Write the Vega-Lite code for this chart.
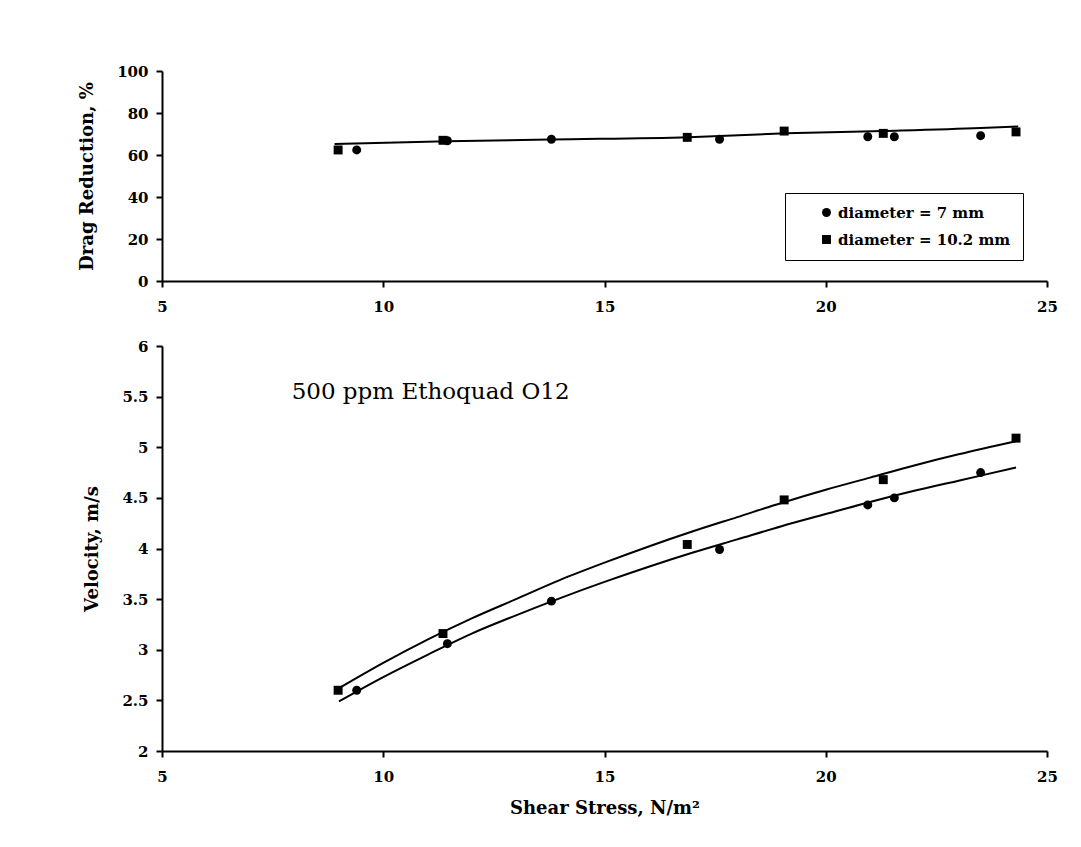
{
  "$schema": "https://vega.github.io/schema/vega-lite/v6.json",
  "background": "white",
  "padding": {"left": 78, "top": 64, "right": 10, "bottom": 10},
  "bounds": "flush",
  "spacing": 65,
  "config": {
    "view": {"stroke": null},
    "axis": {
      "grid": false,
      "domainColor": "black",
      "domainWidth": 2,
      "tickColor": "black",
      "tickWidth": 2,
      "tickSize": 6,
      "labelFont": "DejaVu Serif",
      "labelFontWeight": "bold",
      "labelFontSize": 15,
      "labelColor": "black",
      "titleFont": "DejaVu Serif",
      "titleFontWeight": "bold",
      "titleFontSize": 18,
      "titleColor": "black"
    },
    "axisX": {"labelPadding": 12, "titlePadding": 15, "labelFlush": false},
    "axisY": {"labelPadding": 8, "titlePadding": 20}
  },
  "datasets": {
    "measurements": [
      {"series": "diameter = 7 mm", "stress": 9.4, "drag_reduction": 62.4, "velocity": 2.6},
      {"series": "diameter = 7 mm", "stress": 11.45, "drag_reduction": 66.8, "velocity": 3.06},
      {"series": "diameter = 7 mm", "stress": 13.8, "drag_reduction": 67.5, "velocity": 3.48},
      {"series": "diameter = 7 mm", "stress": 17.6, "drag_reduction": 67.5, "velocity": 3.99},
      {"series": "diameter = 7 mm", "stress": 20.95, "drag_reduction": 68.7, "velocity": 4.43},
      {"series": "diameter = 7 mm", "stress": 21.55, "drag_reduction": 68.7, "velocity": 4.5},
      {"series": "diameter = 7 mm", "stress": 23.5, "drag_reduction": 69.2, "velocity": 4.75},
      {"series": "diameter = 10.2 mm", "stress": 8.98, "drag_reduction": 62.4, "velocity": 2.6},
      {"series": "diameter = 10.2 mm", "stress": 11.35, "drag_reduction": 67.0, "velocity": 3.16},
      {"series": "diameter = 10.2 mm", "stress": 16.87, "drag_reduction": 68.4, "velocity": 4.04},
      {"series": "diameter = 10.2 mm", "stress": 19.06, "drag_reduction": 71.4, "velocity": 4.48},
      {"series": "diameter = 10.2 mm", "stress": 21.3, "drag_reduction": 70.3, "velocity": 4.68},
      {"series": "diameter = 10.2 mm", "stress": 24.3, "drag_reduction": 71.0, "velocity": 5.09}
    ],
    "drag_fit": [
      {"stress": 8.9, "drag_reduction": 65.2},
      {"stress": 11.45, "drag_reduction": 66.5},
      {"stress": 13.8, "drag_reduction": 67.4},
      {"stress": 16.9, "drag_reduction": 68.5},
      {"stress": 19.1, "drag_reduction": 70.3},
      {"stress": 21.3, "drag_reduction": 71.4},
      {"stress": 23.5, "drag_reduction": 72.8},
      {"stress": 24.35, "drag_reduction": 73.6}
    ],
    "velocity_fit": [
      {"series": "diameter = 10.2 mm", "stress": 9.0, "velocity": 2.62},
      {"series": "diameter = 10.2 mm", "stress": 10, "velocity": 2.87},
      {"series": "diameter = 10.2 mm", "stress": 11, "velocity": 3.1},
      {"series": "diameter = 10.2 mm", "stress": 12, "velocity": 3.31},
      {"series": "diameter = 10.2 mm", "stress": 13, "velocity": 3.5},
      {"series": "diameter = 10.2 mm", "stress": 14, "velocity": 3.69},
      {"series": "diameter = 10.2 mm", "stress": 15, "velocity": 3.86},
      {"series": "diameter = 10.2 mm", "stress": 16, "velocity": 4.02},
      {"series": "diameter = 10.2 mm", "stress": 17, "velocity": 4.17},
      {"series": "diameter = 10.2 mm", "stress": 18, "velocity": 4.31},
      {"series": "diameter = 10.2 mm", "stress": 19, "velocity": 4.45},
      {"series": "diameter = 10.2 mm", "stress": 20, "velocity": 4.58},
      {"series": "diameter = 10.2 mm", "stress": 21, "velocity": 4.7},
      {"series": "diameter = 10.2 mm", "stress": 22, "velocity": 4.82},
      {"series": "diameter = 10.2 mm", "stress": 23, "velocity": 4.93},
      {"series": "diameter = 10.2 mm", "stress": 24.3, "velocity": 5.06},
      {"series": "diameter = 7 mm", "stress": 9.0, "velocity": 2.49},
      {"series": "diameter = 7 mm", "stress": 10, "velocity": 2.73},
      {"series": "diameter = 7 mm", "stress": 11, "velocity": 2.95},
      {"series": "diameter = 7 mm", "stress": 12, "velocity": 3.16},
      {"series": "diameter = 7 mm", "stress": 13, "velocity": 3.34},
      {"series": "diameter = 7 mm", "stress": 14, "velocity": 3.51},
      {"series": "diameter = 7 mm", "stress": 15, "velocity": 3.67},
      {"series": "diameter = 7 mm", "stress": 16, "velocity": 3.82},
      {"series": "diameter = 7 mm", "stress": 17, "velocity": 3.96},
      {"series": "diameter = 7 mm", "stress": 18, "velocity": 4.09},
      {"series": "diameter = 7 mm", "stress": 19, "velocity": 4.22},
      {"series": "diameter = 7 mm", "stress": 20, "velocity": 4.34},
      {"series": "diameter = 7 mm", "stress": 21, "velocity": 4.46},
      {"series": "diameter = 7 mm", "stress": 22, "velocity": 4.57},
      {"series": "diameter = 7 mm", "stress": 23, "velocity": 4.67},
      {"series": "diameter = 7 mm", "stress": 24.3, "velocity": 4.8}
    ]
  },
  "resolve": {"scale": {"shape": "independent"}, "legend": {"shape": "independent"}},
  "vconcat": [
    {
      "width": 885,
      "height": 210,
      "layer": [
        {
          "data": {"name": "drag_fit"},
          "mark": {"type": "line", "color": "black", "strokeWidth": 2, "interpolate": "monotone"},
          "encoding": {
            "x": {"field": "stress", "type": "quantitative", "scale": {"domain": [5, 25], "nice": false},
                  "axis": {"title": null, "values": [5, 10, 15, 20, 25]}},
            "y": {"field": "drag_reduction", "type": "quantitative", "scale": {"domain": [0, 100], "nice": false},
                  "axis": {"title": "Drag Reduction, %", "values": [0, 20, 40, 60, 80, 100]}}
          }
        },
        {
          "data": {"name": "measurements"},
          "mark": {"type": "point", "filled": true, "color": "black", "opacity": 1, "size": 80},
          "encoding": {
            "x": {"field": "stress", "type": "quantitative"},
            "y": {"field": "drag_reduction", "type": "quantitative"},
            "shape": {
              "field": "series", "type": "nominal",
              "scale": {"domain": ["diameter = 7 mm", "diameter = 10.2 mm"], "range": ["circle", "square"]},
              "legend": {
                "title": null,
                "orient": "none",
                "legendX": 623,
                "legendY": 122,
                "fillColor": "white",
                "strokeColor": "black",
                "padding": 12,
                "rowPadding": 11,
                "symbolOffset": 22,
                "symbolSize": 80,
                "symbolFillColor": "black",
                "symbolStrokeColor": "black",
                "labelOffset": 4,
                "labelLimit": 400,
                "labelExpr": "datum.label + '\u2003'",
                "labelFont": "DejaVu Serif",
                "labelFontWeight": "bold",
                "labelFontSize": 15,
                "labelColor": "black"
              }
            }
          }
        }
      ]
    },
    {
      "width": 885,
      "height": 405,
      "layer": [
        {
          "data": {"name": "velocity_fit"},
          "mark": {"type": "line", "color": "black", "strokeWidth": 2, "interpolate": "monotone"},
          "encoding": {
            "x": {"field": "stress", "type": "quantitative", "scale": {"domain": [5, 25], "nice": false},
                  "axis": {"title": "Shear Stress, N/m²", "values": [5, 10, 15, 20, 25]}},
            "y": {"field": "velocity", "type": "quantitative", "scale": {"domain": [2, 6], "nice": false, "zero": false},
                  "axis": {"title": "Velocity, m/s", "values": [2, 2.5, 3, 3.5, 4, 4.5, 5, 5.5, 6], "format": "~g"}},
            "detail": {"field": "series", "type": "nominal"}
          }
        },
        {
          "data": {"name": "measurements"},
          "mark": {"type": "point", "filled": true, "color": "black", "opacity": 1, "size": 80},
          "encoding": {
            "x": {"field": "stress", "type": "quantitative"},
            "y": {"field": "velocity", "type": "quantitative"},
            "shape": {
              "field": "series", "type": "nominal",
              "scale": {"domain": ["diameter = 7 mm", "diameter = 10.2 mm"], "range": ["circle", "square"]},
              "legend": null
            }
          }
        },
        {
          "data": {"values": [{"stress": 7.93, "velocity": 5.55, "note": "500 ppm Ethoquad O12"}]},
          "mark": {"type": "text", "align": "left", "baseline": "middle", "font": "DejaVu Serif", "fontSize": 23, "color": "black"},
          "encoding": {
            "x": {"field": "stress", "type": "quantitative"},
            "y": {"field": "velocity", "type": "quantitative"},
            "text": {"field": "note"}
          }
        }
      ]
    }
  ]
}
